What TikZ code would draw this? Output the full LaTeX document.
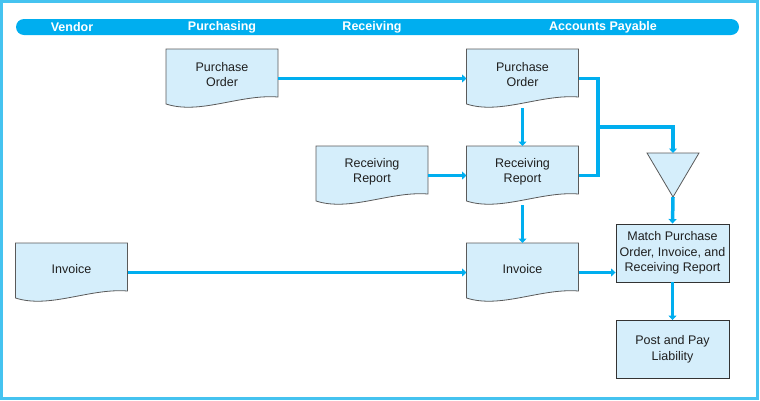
\documentclass[tikz,border=0pt]{standalone}
\usepackage{fontspec}
\setmainfont{Liberation Sans}
\usetikzlibrary{arrows.meta,calc}
\definecolor{flowblue}{HTML}{00AEEF}
\definecolor{frameblue}{HTML}{45C3F0}
\definecolor{docfill}{HTML}{D5EEFB}
\definecolor{docline}{HTML}{5A5A5A}
\tikzset{
  docnode/.style={minimum width=112pt, minimum height=59pt, inner sep=0pt, outer sep=0pt},
  doctext/.style={align=center, inner sep=0pt, font=\fontsize{12.5}{15}\selectfont, text=black!88},
  docdraw/.style={draw=docline, fill=docfill, line width=0.8pt},
  boxnode/.style={draw=black!80, fill=docfill, line width=0.9pt, minimum width=113pt, minimum height=58pt, inner sep=1pt, align=center, font=\fontsize{12.5}{15.5}\selectfont, text=black!88},
  flowline/.style={draw=flowblue, line width=3.5pt},
  flow/.style={flowline, -{Triangle[length=4.5pt,width=8pt]}},
  head/.style={text=white, font=\fontsize{12.5}{14}\selectfont\bfseries}
}
\newcommand\docshape[1]{%
  \path[docdraw] (#1.north west) -- (#1.north east) -- ([yshift=11pt]#1.south east)
    .. controls ([xshift=-38pt,yshift=14pt]#1.south east) and ([xshift=34pt,yshift=-7pt]#1.south west)
    .. ([yshift=4pt]#1.south west) -- cycle;}
\begin{document}
\begin{tikzpicture}[x=1pt,y=-1pt]
\useasboundingbox (0,0) rectangle (760,400);
% frame
\draw[frameblue, line width=3pt] (1.5,1.5) rectangle (757.5,398);
% header
\fill[flowblue, rounded corners=8pt] (16,19) rectangle (739,35);
\node[head] (hv) at (72,27) {Vendor};
\node[head] (hp) at (222,27) {Purchasing};
\node[head] (hr) at (372,27) {Receiving};
\node[head] (ha) at (603,27) {Accounts Payable};

% documents
\node[docnode] (po1) at (222,78.5) {};
\node[docnode] (po2) at (522.5,78.5) {};
\node[docnode] (rr1) at (372,175.5) {};
\node[docnode] (rr2) at (522.5,175.5) {};
\node[docnode] (inv1) at (71.5,272.5) {};
\node[docnode] (inv2) at (522.5,272.5) {};
\docshape{po1}\docshape{po2}\docshape{rr1}\docshape{rr2}\docshape{inv1}\docshape{inv2}
\node[doctext] (po1t) at (222,75) {Purchase\\Order};
\node[doctext] (po2t) at (522.5,75) {Purchase\\Order};
\node[doctext] (rr1t) at (372,172) {Receiving\\Report};
\node[doctext] (rr2t) at (522.5,172) {Receiving\\Report};
\node[doctext] (inv1t) at (71.5,269) {Invoice};
\node[doctext] (inv2t) at (522.5,269) {Invoice};

% merge triangle
\node[minimum width=52pt, minimum height=44pt, inner sep=0pt, outer sep=0pt] (tri) at (673,175) {};
\path[docdraw] (tri.north west) -- (tri.north east) -- (tri.south) -- cycle;

% boxes
\node[boxnode] (match) at (672.5,253) {Match Purchase\\Order, Invoice, and\\Receiving Report};
\node[boxnode] (post) at (672.5,349.5) {Post and Pay\\Liability};

% connectors
\coordinate (jx) at (598,127);
\draw[flow] (po1.east) -- (po2.west);
\draw[flow] (po2.south) -- (rr2.north);
\draw[flowline] (po2.east) -| (jx) |- (rr2.east);
\draw[flow] (jx) -| (tri.north);
\draw[flow] (rr1.east) -- (rr2.west);
\draw[flow] (rr2.south) -- (inv2.north);
\draw[flow] (inv1.east) -- (inv2.west);
\draw[flow] (inv2.east) -- (inv2.east -| match.west);
\draw[flow] (tri.south) -- (match.north);
\draw[flow] (match.south) -- (post.north);
\end{tikzpicture}
\end{document}
